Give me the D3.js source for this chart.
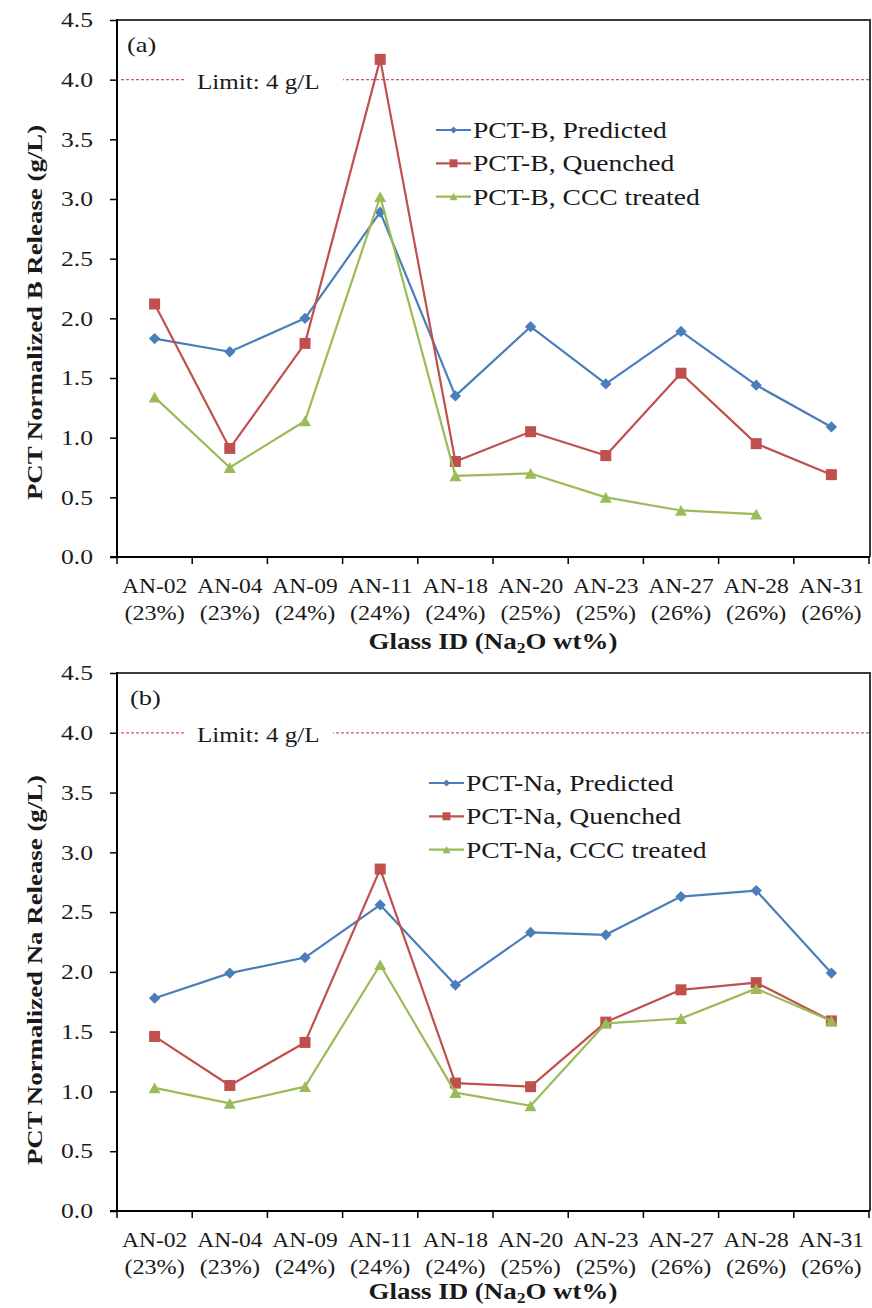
<!DOCTYPE html>
<html>
<head>
<meta charset="utf-8">
<script src="https://cdn.jsdelivr.net/npm/d3@7"></script>
<style>
  html, body { margin: 0; padding: 0; background: #fff; }
  svg { display: block; font-family: "Liberation Serif", "Times New Roman", serif; }
</style>
</head>
<body>
<svg id="chart" width="872" height="1308"></svg>
<script>
// ---------- DATA ----------
const categories = ["AN-02","AN-04","AN-09","AN-11","AN-18","AN-20","AN-23","AN-27","AN-28","AN-31"];
const na2oPct    = ["(23%)","(23%)","(24%)","(24%)","(24%)","(25%)","(25%)","(26%)","(26%)","(26%)"];
const yTickValues = [0, 0.5, 1.0, 1.5, 2.0, 2.5, 3.0, 3.5, 4.0, 4.5];
const limitValue = 4;
const limitLabel = "Limit: 4 g/L";

const bPredicted = [1.83, 1.72, 2.00, 2.89, 1.35, 1.93, 1.45, 1.89, 1.44, 1.09];
const bQuenched  = [2.12, 0.91, 1.79, 4.17, 0.80, 1.05, 0.85, 1.54, 0.95, 0.69];
const bCCC       = [1.34, 0.75, 1.14, 3.02, 0.68, 0.70, 0.50, 0.39, 0.36, null];

const naPredicted = [1.78, 1.99, 2.12, 2.56, 1.89, 2.33, 2.31, 2.63, 2.68, 1.99];
const naQuenched  = [1.46, 1.05, 1.41, 2.86, 1.07, 1.04, 1.58, 1.85, 1.91, 1.59];
const naCCC       = [1.03, 0.90, 1.04, 2.06, 0.99, 0.88, 1.57, 1.61, 1.86, 1.59];

const namesB  = ["PCT-B, Predicted", "PCT-B, Quenched", "PCT-B, CCC treated"];
const namesNa = ["PCT-Na, Predicted", "PCT-Na, Quenched", "PCT-Na, CCC treated"];

const xTitle = "Glass ID (Na";
const yTitleB  = "PCT Normalized B Release (g/L)";
const yTitleNa = "PCT Normalized Na Release (g/L)";

// ---------- STYLE ----------
const colors = ["#4a7ebb", "#c0504d", "#9bbb59"];
const shapes = ["diamond", "square", "triangle"];
const textColor = "#1a1a1a";

const svg = d3.select("#chart");

function stretch(sel, k) {
  sel.each(function () {
    const w = this.getComputedTextLength();
    d3.select(this).attr("textLength", w * k).attr("lengthAdjust", "spacingAndGlyphs");
  });
}

function symbolPath(shape, s) {
  if (shape === "diamond") return d3.symbol().type(d3.symbolSquare).size(s * s)();
  if (shape === "square") return d3.symbol().type(d3.symbolSquare).size(s * s)();
  const h = s * 0.9, w = s;
  return `M0,${-h/2}L${w/2},${h/2}L${-w/2},${h/2}Z`;
}
function symbolTransform(shape) { return shape === "diamond" ? "rotate(45)" : null; }
const markerSize = { diamond: 8, square: 11, triangle: 12 };
const legendMarkerSize = { diamond: 5, square: 8, triangle: 8 };

function drawPanel(cfg) {
  const g = svg.append("g");
  const x = d3.scaleBand().domain(categories).range([cfg.left, cfg.right]).paddingInner(0).paddingOuter(0);
  const y = d3.scaleLinear().domain([0, 4.5]).range([cfg.bottom, cfg.top]);

  // frame (top & right)
  g.append("path")
    .attr("d", `M${cfg.left},${cfg.top}H${cfg.right + 1}V${cfg.bottom}`)
    .attr("fill", "none").attr("stroke", "#3a3a3a").attr("stroke-width", 2);

  // limit line
  const ly = y(limitValue);
  g.append("line").attr("x1", cfg.left + 4).attr("x2", cfg.right)
    .attr("y1", ly).attr("y2", ly)
    .attr("stroke", "#d4566e").attr("stroke-width", 1.2).attr("stroke-dasharray", "3,2");
  g.append("rect").attr("x", cfg.gapStart).attr("width", cfg.gapEnd - cfg.gapStart)
    .attr("y", ly - 4).attr("height", 8).attr("fill", "#fff");
  const lt = g.append("text").attr("x", 197).attr("y", ly + 9.5)
    .attr("font-size", 22).attr("fill", textColor).text(limitLabel);
  stretch(lt, 1.14);

  // panel label
  const pl = g.append("text").attr("x", cfg.labelX).attr("y", cfg.top + 32)
    .attr("font-size", 22).attr("fill", textColor).text(cfg.panelLabel);
  stretch(pl, 1.2);

  // Y axis
  const yAxis = d3.axisLeft(y).tickValues(yTickValues).tickFormat(d3.format(".1f"))
    .tickSize(7).tickPadding(17);
  const ya = g.append("g").attr("transform", `translate(${cfg.left},0)`).call(yAxis);
  ya.select(".domain").attr("stroke", "#000").attr("stroke-width", 2)
    .attr("d", `M0,${cfg.top - 1}V${cfg.bottom}`);
  ya.selectAll(".tick line").attr("stroke", "#000").attr("stroke-width", 1.5);
  ya.selectAll(".tick text").attr("font-size", 21).attr("fill", textColor)
    .attr("font-family", "Liberation Serif");
  stretch(ya.selectAll(".tick text"), 1.22);

  // X axis (labels centered on bands)
  const xAxis = d3.axisBottom(x).tickSize(0).tickFormat(d => d);
  const xa = g.append("g").attr("transform", `translate(0,${cfg.bottom})`).call(xAxis);
  xa.select(".domain").attr("stroke", "#000").attr("stroke-width", 2)
    .attr("d", `M${cfg.left - 7},0H${cfg.right + 1}`);
  xa.selectAll(".tick text").attr("y", 36).attr("dy", null)
    .attr("font-size", 21).attr("fill", textColor).attr("font-family", "Liberation Serif");
  stretch(xa.selectAll(".tick text"), 1.12);
  xa.selectAll(".tick").append("text")
    .attr("y", 63).attr("text-anchor", "middle")
    .attr("font-size", 21).attr("fill", textColor).attr("font-family", "Liberation Serif")
    .text((d, i) => na2oPct[i]);
  stretch(xa.selectAll(".tick text:last-of-type"), 1.15);
  const edges = categories.map(c => x(c)).concat([x.range()[1]]);
  xa.selectAll(".edge").data(edges).enter().append("line")
    .attr("x1", d => d).attr("x2", d => d).attr("y1", 0).attr("y2", 7)
    .attr("stroke", "#000").attr("stroke-width", 1.5);

  // X title
  const xt = g.append("text").attr("x", (cfg.left + cfg.right) / 2).attr("y", cfg.bottom + cfg.xTitleOffset)
    .attr("text-anchor", "middle").attr("font-size", 23).attr("font-weight", "bold").attr("fill", textColor);
  xt.append("tspan").text(xTitle);
  xt.append("tspan").attr("font-size", 15).attr("dy", 4).text("2");
  xt.append("tspan").attr("dy", -4).text("O wt%)");
  stretch(xt, 1.17);

  // Y title
  const yt = g.append("text")
    .attr("transform", `translate(42,${(cfg.top + cfg.bottom) / 2 + cfg.yTitleShift}) rotate(-90)`)
    .attr("text-anchor", "middle").attr("font-size", 22).attr("font-weight", "bold")
    .attr("fill", textColor).text(cfg.yTitle);
  stretch(yt, 1.22);

  // Series
  cfg.series.forEach((vals, si) => {
    const pts = vals.map((v, i) => ({ c: categories[i], v }));
    const line = d3.line().defined(d => d.v != null)
      .x(d => x(d.c) + x.bandwidth() / 2).y(d => y(d.v));
    g.append("path").datum(pts).attr("d", line)
      .attr("fill", "none").attr("stroke", colors[si]).attr("stroke-width", 2.2)
      .attr("stroke-linejoin", "round");
    g.selectAll(".m" + si).data(pts.filter(d => d.v != null)).enter().append("path")
      .attr("transform", d => `translate(${x(d.c) + x.bandwidth() / 2},${y(d.v)})` +
        (symbolTransform(shapes[si]) ? " " + symbolTransform(shapes[si]) : ""))
      .attr("d", symbolPath(shapes[si], markerSize[shapes[si]]))
      .attr("fill", colors[si]);
  });

  // Legend
  cfg.names.forEach((name, si) => {
    const ry = cfg.top + 110 + si * 33.3;
    g.append("line").attr("x1", cfg.legendX).attr("x2", cfg.legendX + 35)
      .attr("y1", ry).attr("y2", ry).attr("stroke", colors[si]).attr("stroke-width", 2.2);
    g.append("path")
      .attr("transform", `translate(${cfg.legendX + 17.5},${ry})` +
        (symbolTransform(shapes[si]) ? " " + symbolTransform(shapes[si]) : ""))
      .attr("d", symbolPath(shapes[si], legendMarkerSize[shapes[si]]))
      .attr("fill", colors[si]);
    const t = g.append("text").attr("x", cfg.legendX + 37).attr("y", ry + 8)
      .attr("font-size", 23).attr("fill", textColor).text(name);
    stretch(t, 1.2);
  });
}

drawPanel({
  top: 20, bottom: 557, left: 117, right: 869,
  series: [bPredicted, bQuenched, bCCC], names: namesB,
  panelLabel: "(a)", labelX: 127, yTitle: yTitleB, yTitleShift: 24,
  gapStart: 186, gapEnd: 343, legendX: 436, xTitleOffset: 92
});
drawPanel({
  top: 673, bottom: 1211, left: 117, right: 869,
  series: [naPredicted, naQuenched, naCCC], names: namesNa,
  panelLabel: "(b)", labelX: 130, yTitle: yTitleNa, yTitleShift: 28,
  gapStart: 184, gapEnd: 333, legendX: 429, xTitleOffset: 88
});
</script>
</body>
</html>
